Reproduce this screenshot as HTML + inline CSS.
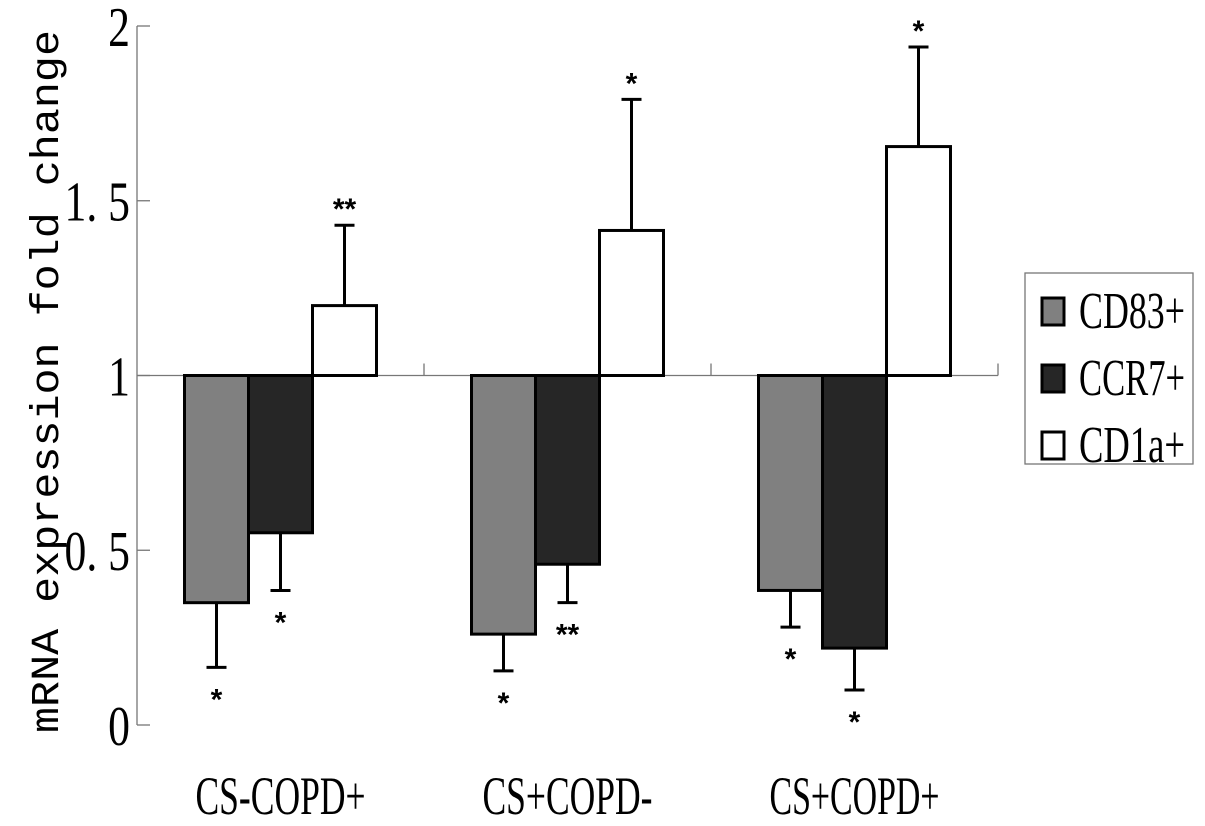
<!DOCTYPE html>
<html><head><meta charset="utf-8"><style>
html,body{margin:0;padding:0;background:#fff;}
svg{display:block;}
text{font-family:"Liberation Serif","Noto Serif CJK SC",serif;fill:#000;}
</style></head><body>
<svg id="chart" width="1205" height="826" viewBox="0 0 1205 826" xmlns="http://www.w3.org/2000/svg">
<g id="axes"></g>
<g id="bars"></g>
<g id="legend"></g>
</svg>
<script>
const categories = ["CS-COPD+", "CS+COPD-", "CS+COPD+"];
const seriesNames = ["CD83+", "CCR7+", "CD1a+"];
const cd83 = [0.35, 0.26, 0.385];
const ccr7 = [0.55, 0.46, 0.22];
const cd1a = [1.2, 1.415, 1.655];
const cd83Err = [0.165, 0.155, 0.28];
const ccr7Err = [0.385, 0.35, 0.1];
const cd1aErr = [1.43, 1.79, 1.94];
const cd83Sig = ["*", "*", "*"];
const ccr7Sig = ["*", "**", "*"];
const cd1aSig = ["**", "*", "*"];
const yTicks = [0, 0.5, 1, 1.5, 2];
const yTickLabels = ["0", "0. 5", "1", "1. 5", "2"];

const NS = "http://www.w3.org/2000/svg";
const X0 = 137, X1 = 998, Y0 = 725, YPU = 349.5, BASE = 1;
const y = v => Y0 - v * YPU;
const catW = (X1 - X0) / categories.length;
const barW = 64;
const xBar = (ci, si) => X0 + catW * ci + catW / 2 - barW * 1.5 + si * barW;
function mk(tag, attrs, parent) { const e = document.createElementNS(NS, tag); for (const k in attrs) e.setAttribute(k, attrs[k]); parent.appendChild(e); return e; }

const axes = document.getElementById('axes');
const ax = mk('line', {x1: X0, y1: y(0), x2: X0, y2: y(2), stroke: '#777', 'stroke-width': 1.3}, axes);


const bl = mk('line', {x1: X0, y1: y(BASE), x2: X1, y2: y(BASE), stroke: '#777', 'stroke-width': 1.3}, axes);


yTicks.forEach((t, i) => {
  const tk = mk('line', {x1: X0, y1: y(t), x2: X0 + 13, y2: y(t), stroke: '#777', 'stroke-width': 1.3}, axes);
  
  
  const tl = mk('text', {x: 130, y: y(t) + 20, 'font-size': 56, 'text-anchor': 'end', 'xml:space': 'preserve', transform: `translate(130 0) scale(0.78 1) translate(-130 0)`}, axes);
  tl.textContent = yTickLabels[i];
  
  
});
for (let i = 1; i <= categories.length; i++) {
  const tk = mk('line', {x1: X0 + catW * i, y1: y(BASE), x2: X0 + catW * i, y2: y(BASE) - 12, stroke: '#777', 'stroke-width': 1.3}, axes);
  
  
}
categories.forEach((c, i) => {
  const cx = X0 + catW * i + catW / 2;
  const t = mk('text', {x: cx - 85, y: 814, 'font-size': 54, textLength: 170, lengthAdjust: 'spacingAndGlyphs'}, axes);
  t.textContent = c;
  
  
});
const yt = mk('text', {x: 0, y: 0, 'font-size': 40, textLength: 703, lengthAdjust: 'spacingAndGlyphs', transform: 'translate(58 733) rotate(-90)', style: 'font-family:"Liberation Mono",monospace'}, axes);
yt.textContent = "mRNA expression fold change";



const bars = document.getElementById('bars');
const fills = ["#808080", "#262626", "#ffffff"];
const vals = [cd83, ccr7, cd1a];
const errs = [cd83Err, ccr7Err, cd1aErr];
const sigs = [cd83Sig, ccr7Sig, cd1aSig];
categories.forEach((c, ci) => {
  vals.forEach((arr, si) => {
    const v = arr[ci], x = xBar(ci, si);
    const top = Math.min(y(v), y(BASE)), h = Math.abs(y(v) - y(BASE));
    const r = mk('rect', {x: x, y: top, width: barW, height: h, fill: fills[si], stroke: '#000', 'stroke-width': 3}, bars);
    
    
    const e = errs[si][ci], mx = x + barW / 2;
    const el = mk('path', {d: `M${mx} ${y(v)} V${y(e)} M${mx - 10} ${y(e)} H${mx + 10}`, stroke: '#000', 'stroke-width': 3, fill: 'none'}, bars);
    
    
    const up = v > BASE;
    const s = mk('text', {x: mx, y: up ? y(e) - 6 : y(e) + 42, 'font-size': 30, 'font-weight': 'bold', 'text-anchor': 'middle', style: 'font-family:"Liberation Sans",sans-serif'}, bars);
    s.textContent = sigs[si][ci];
    
    
  });
});

const lg = document.getElementById('legend');
const box = mk('rect', {x: 1025, y: 273, width: 168, height: 191, fill: '#fff', stroke: '#777', 'stroke-width': 1.3}, lg);


seriesNames.forEach((n, i) => {
  const yy = 298 + i * 67;
  const sw = mk('rect', {x: 1042, y: yy, width: 22, height: 27, fill: fills[i], stroke: '#000', 'stroke-width': 3}, lg);
  
  
  const t = mk('text', {x: 1079, y: yy + 30, 'font-size': 52, textLength: 106, lengthAdjust: 'spacingAndGlyphs'}, lg);
  t.textContent = n;
  
  
});
</script>
</body></html>
